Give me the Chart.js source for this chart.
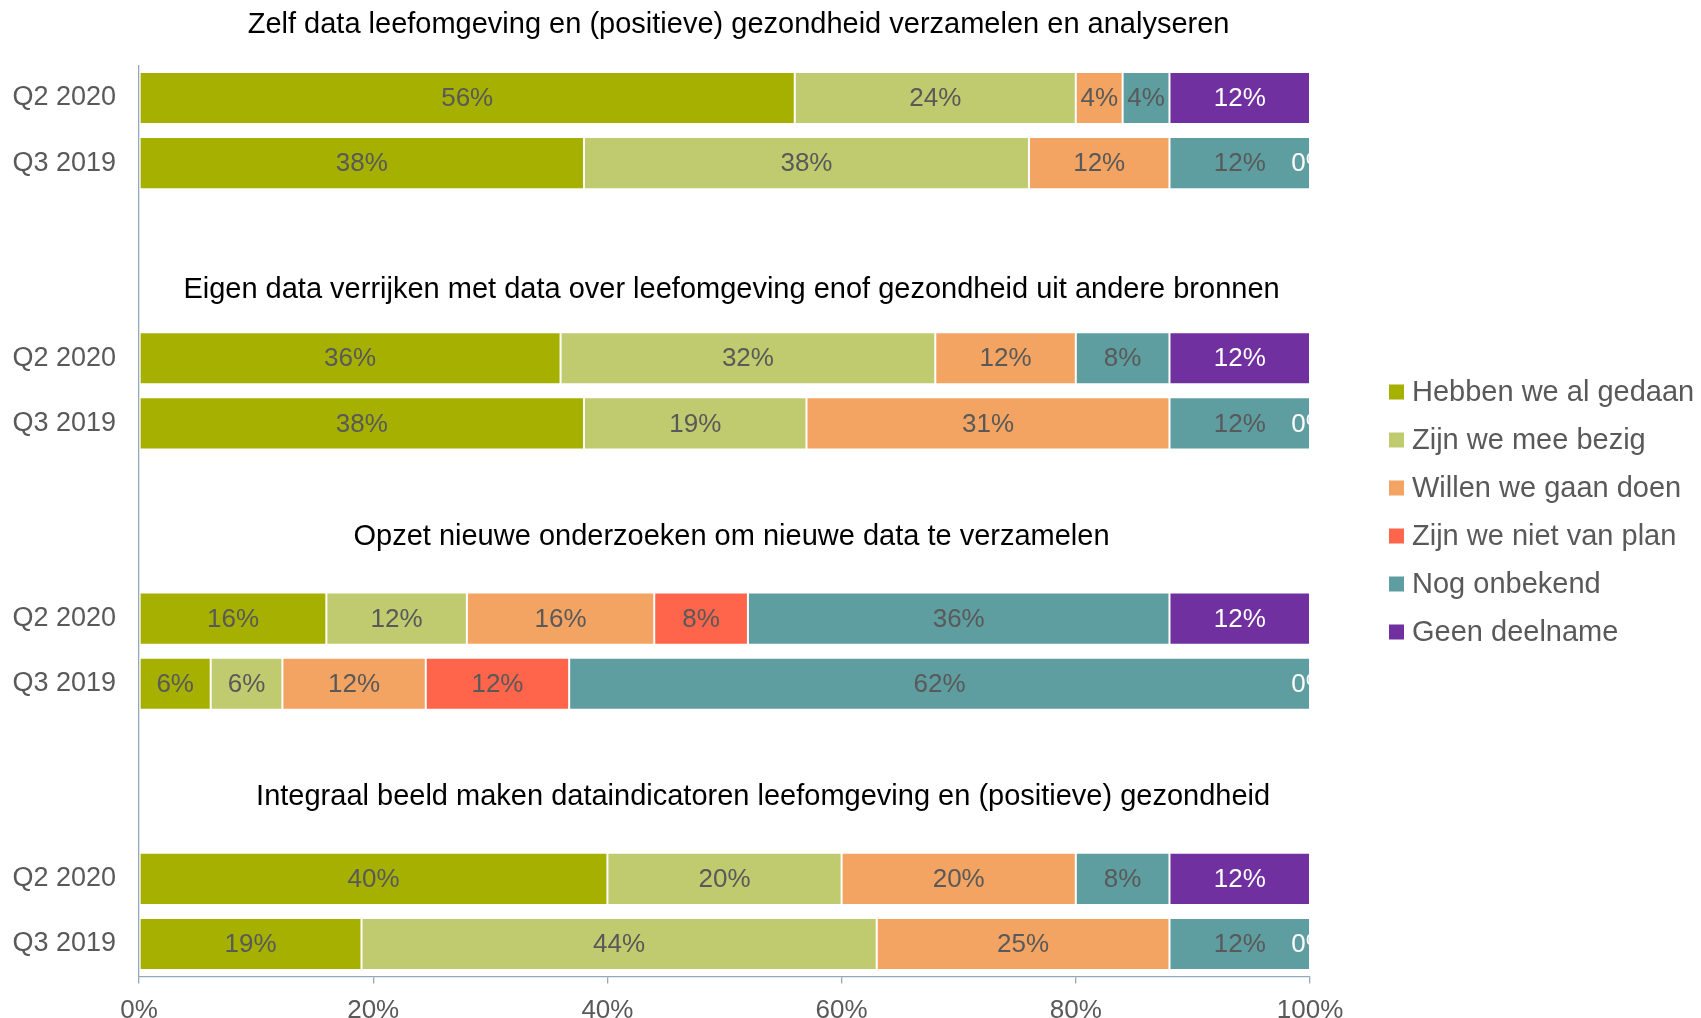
<!DOCTYPE html>
<html>
<head>
<meta charset="utf-8">
<script src="https://cdn.jsdelivr.net/npm/chart.js@4.4.1/dist/chart.umd.min.js"></script>
<style>
  html, body { margin: 0; padding: 0; background: #ffffff; }
  #wrap { width: 1701px; height: 1018px; position: relative; }
</style>
</head>
<body>
<div id="wrap"><canvas id="c" width="1701" height="1018"></canvas></div>
<script>
// ---- Data ----
const categories = ['Q2 2020','Q3 2019','','','Q2 2020','Q3 2019','','','Q2 2020','Q3 2019','','','Q2 2020','Q3 2019'];
const groupTitles = [
  'Zelf data leefomgeving en (positieve) gezondheid verzamelen en analyseren',
  'Eigen data verrijken met data over leefomgeving enof gezondheid uit andere bronnen',
  'Opzet nieuwe onderzoeken om nieuwe data te verzamelen',
  'Integraal beeld maken dataindicatoren leefomgeving en (positieve) gezondheid'
];
const seriesNames = ['Hebben we al gedaan','Zijn we mee bezig','Willen we gaan doen','Zijn we niet van plan','Nog onbekend','Geen deelname'];
// values in % as shown (chart is a 100% stacked bar)
const hebben   = [56, 38, null, null, 36, 38, null, null, 16, 6,  null, null, 40, 19];
const bezig    = [24, 38, null, null, 32, 19, null, null, 12, 6,  null, null, 20, 44];
const willen   = [4,  12, null, null, 12, 31, null, null, 16, 12, null, null, 20, 25];
const nietPlan = [null, null, null, null, null, null, null, null, 8, 12, null, null, null, null];
const onbekend = [4,  12, null, null, 8,  12, null, null, 36, 62, null, null, 8, 12];
const geen     = [12, 0,  null, null, 12, 0,  null, null, 12, 0,  null, null, 12, 0];
const xTicks = [0, 20, 40, 60, 80, 100];

// ---- Styles ----
const colors = ['#A5B000', '#BFCB6E', '#F4A462', '#FF654A', '#5F9EA0', '#7030A0'];
const labelColors = ['#595959', '#595959', '#595959', '#595959', '#595959', '#ffffff'];
const axisColor = '#95A9BC';
const FONT = '"Liberation Sans", Arial, sans-serif';
const titleRowOffsets = [-1.12, -1.05, -1.25, -1.26]; // relative to the Q2 row (in rows)
const titleCenters = [51.2, 50.6, 50.6, 53.3];       // horizontal centre in % of x axis
const titleQ2Index = [0, 4, 8, 12];

const allSeries = [hebben, bezig, willen, nietPlan, onbekend, geen];
// 100% stacked: normalise each row by its total
const rowTotals = categories.map((_, i) => allSeries.reduce((s, arr) => s + (arr[i] || 0), 0));
const datasets = allSeries.map((arr, i) => ({
  label: seriesNames[i],
  data: arr.map((v, j) => (v === null ? null : (rowTotals[j] ? v / rowTotals[j] * 100 : 0))),
  rawValues: arr,
  backgroundColor: colors[i],
  borderColor: 'rgba(255,255,255,0.45)',
  borderWidth: 1,
  borderSkipped: false,
  categoryPercentage: 0.8,
  barPercentage: 1.0
}));

const labelsPlugin = {
  id: 'barLabels',
  afterDatasetsDraw(chart) {
    const ctx = chart.ctx, area = chart.chartArea;
    ctx.save();
    ctx.beginPath();
    ctx.rect(area.left, area.top, area.right - area.left, area.bottom - area.top);
    ctx.clip();
    ctx.font = '26px ' + FONT;
    ctx.textAlign = 'center';
    ctx.textBaseline = 'middle';
    chart.data.datasets.forEach((ds, di) => {
      const meta = chart.getDatasetMeta(di);
      meta.data.forEach((bar, i) => {
        const v = ds.rawValues[i];
        if (v === null || v === undefined) return;
        ctx.fillStyle = labelColors[di];
        ctx.fillText(v + '%', (bar.x + bar.base) / 2, bar.y + 1);
      });
    });
    ctx.restore();
  }
};

const titlesPlugin = {
  id: 'groupTitles',
  afterDraw(chart) {
    const ctx = chart.ctx;
    const ys = chart.scales.y, xs = chart.scales.x;
    const step = ys.getPixelForValue(1) - ys.getPixelForValue(0);
    ctx.save();
    ctx.font = '29px ' + FONT;
    ctx.fillStyle = '#000000';
    ctx.textAlign = 'center';
    ctx.textBaseline = 'middle';
    groupTitles.forEach((t, g) => {
      const y = ys.getPixelForValue(titleQ2Index[g]) + titleRowOffsets[g] * step;
      const x = xs.getPixelForValue(titleCenters[g]);
      ctx.fillText(t, x, y);
    });
    ctx.restore();
  }
};

const legendPlugin = {
  id: 'sideLegend',
  afterDraw(chart) {
    const ctx = chart.ctx, area = chart.chartArea;
    const pitch = 48;
    const mid = (area.top + area.bottom) / 2 - 9.5;
    const y0 = mid - pitch * (seriesNames.length - 1) / 2;
    const bx = area.right + 79;
    ctx.save();
    ctx.font = '29px ' + FONT;
    ctx.textAlign = 'left';
    ctx.textBaseline = 'middle';
    seriesNames.forEach((n, i) => {
      const y = y0 + i * pitch;
      ctx.fillStyle = colors[i];
      ctx.fillRect(bx, y - 7, 15, 15);
      ctx.fillStyle = '#595959';
      ctx.fillText(n, bx + 23, y + 1);
    });
    ctx.restore();
  }
};

new Chart(document.getElementById('c'), {
  type: 'bar',
  data: { labels: categories, datasets },
  options: {
    responsive: false,
    animation: false,
    indexAxis: 'y',
    layout: { padding: { top: 65.5, right: 391, left: 0, bottom: 0 } },
    plugins: { legend: { display: false }, tooltip: { enabled: false }, title: { display: false } },
    scales: {
      x: {
        stacked: true,
        min: 0, max: 100,
        afterBuildTicks(scale) { scale.ticks = xTicks.map(v => ({ value: v })); },
        afterFit(scale) { scale.height = 41.5; },
        grid: { drawOnChartArea: false, drawTicks: true, tickLength: 7, color: axisColor, lineWidth: 1.3 },
        border: { display: true, color: axisColor, width: 1.3 },
        ticks: { color: '#595959', font: { family: FONT, size: 26 }, padding: 12, callback: v => v + '%' }
      },
      y: {
        stacked: true,
        afterFit(scale) { scale.width = 139; },
        grid: { display: false, drawTicks: false },
        border: { display: true, color: axisColor, width: 1.3 },
        ticks: { color: '#595959', font: { family: FONT, size: 27 }, padding: 23, autoSkip: false }
      }
    }
  },
  plugins: [labelsPlugin, titlesPlugin, legendPlugin]
});
</script>
</body>
</html>
